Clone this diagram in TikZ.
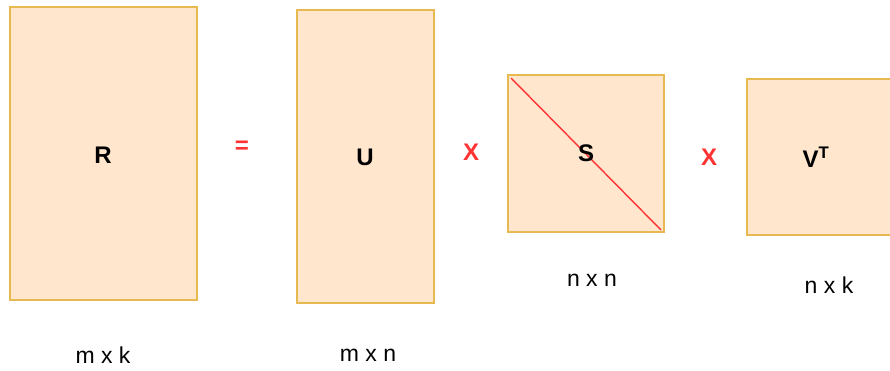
\documentclass[tikz,border=0pt]{standalone}
\usepackage{fontspec}
\setmainfont{Liberation Sans}
\definecolor{boxfill}{HTML}{FFE6CC}
\definecolor{boxline}{HTML}{E6BA50}
\definecolor{opred}{HTML}{FF3333}
\tikzset{
  mbox/.style={fill=boxfill,draw=boxline,line width=2pt},
  lbl/.style={font=\bfseries\fontsize{24}{28}\selectfont},
  op/.style={font=\bfseries\fontsize{24}{28}\selectfont,text=opred},
  dim/.style={font=\fontsize{23}{27}\selectfont}
}
\begin{document}
\begin{tikzpicture}[x=1pt,y=-1pt]
\useasboundingbox (0,0) rectangle (890,370);
\draw[mbox] (10,7) rectangle (197,300);
\draw[mbox] (297,10) rectangle (434,303);
\draw[mbox] (508,75) rectangle (664,232);
\draw[mbox] (747,79) rectangle (896,235);
\coordinate (s1) at (511,78);
\coordinate (s2) at (661,230);
\draw[opred,line width=1.4pt] (s1) -- (s2);
\node[lbl] (R) at (103,155) {R};
\node[lbl] (U) at (365,157) {U};
\node[lbl] (S) at (586,153) {S};
\node[lbl] (V) at (816,157) {V\textsuperscript{T}};
\node[op] (eq) at (242,147) {=};
\node[op] (x1) at (471,152) {X};
\node[op] (x2) at (709,157) {X};
\node[dim] (d1) at (103,355) {m x k};
\node[dim] (d2) at (368,355) {m x n};
\node[dim] (d3) at (592,280) {n x n};
\node[dim] (d4) at (829,285) {n x k};
\end{tikzpicture}
\end{document}
